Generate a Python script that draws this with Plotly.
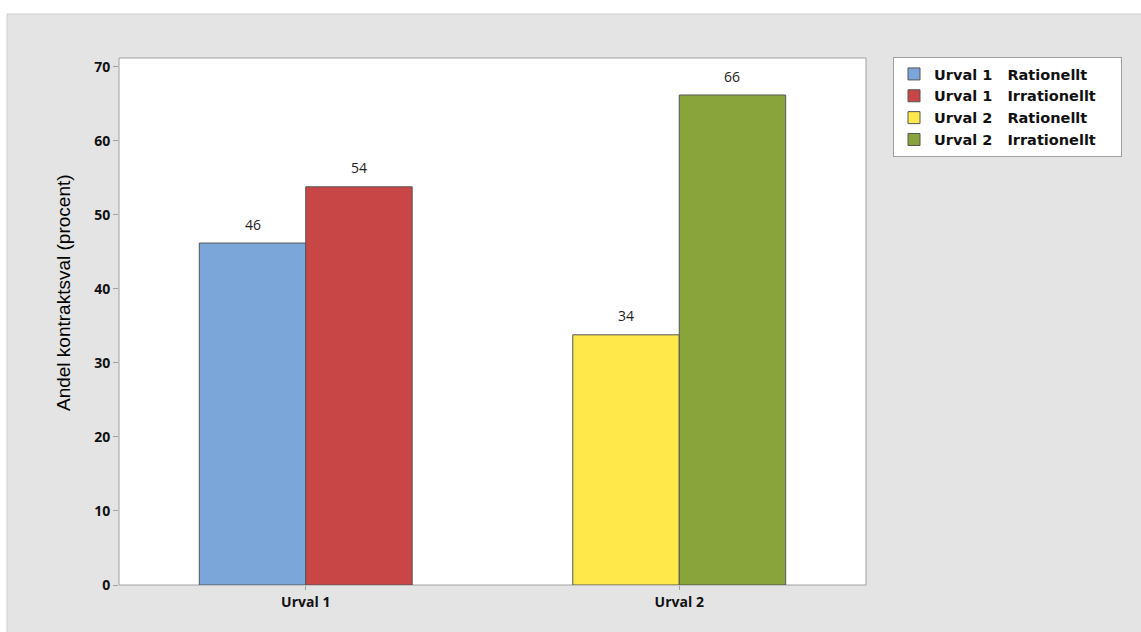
import plotly.graph_objects as go

categories = ["Urval 1", "Urval 2"]
series_names = ["Urval 1\u00a0\u00a0\u00a0Rationellt", "Urval 1\u00a0\u00a0\u00a0Irrationellt",
                "Urval 2\u00a0\u00a0\u00a0Rationellt", "Urval 2\u00a0\u00a0\u00a0Irrationellt"]
series_cat = ["Urval 1", "Urval 1", "Urval 2", "Urval 2"]
series_vals = [46.2, 53.8, 33.8, 66.2]
series_labels = ["46", "54", "34", "66"]
colors = ["#7BA6D9", "#C84646", "#FFE84A", "#88A43A"]
offsets = ["a", "b", "a", "b"]
y_ticks = [0, 10, 20, 30, 40, 50, 60, 70]

L, R, T, B = 119, 275, 58, 47
W, H = 1141, 632
pw, ph = W - L - R, H - T - B
bargap = 0.43
x_range = [-0.5, 1.5]
bar_px = (1 - bargap) / 2 * pw / (x_range[1] - x_range[0])
legend_pad = "\u00a0" * 4

fig = go.Figure()
annotations = []
for name, cat, v, lab, c, og in zip(series_names, series_cat, series_vals, series_labels, colors, offsets):
    fig.add_trace(go.Bar(
        x=[cat], y=[v], name=name + legend_pad, offsetgroup=og,
        marker=dict(color=c, line=dict(color="#555555", width=1)),
    ))
    k = 0 if og == "a" else 1
    annotations.append(dict(
        x=cat, y=v, xref="x", yref="y", text=lab, showarrow=False,
        xshift=(k - 0.5) * bar_px, yshift=19, yanchor="middle",
        font=dict(family="Open Sans, sans-serif", size=14, color="#222222"),
    ))

annotations.append(dict(
    x=(63 - L) / pw, y=(H - B - 293) / ph, xref="paper", yref="paper",
    text="Andel kontraktsval (procent)", textangle=-90, showarrow=False,
    xanchor="center", yanchor="middle",
    font=dict(family="Liberation Sans Narrow, Liberation Sans, sans-serif", size=19, color="#000000"),
))

shapes = [
    dict(type="rect", xref="paper", yref="paper", layer="below",
         x0=(7 - L) / pw, x1=(W + 5 - L) / pw, y0=-(B + 5) / ph, y1=(H - B - 14) / ph,
         fillcolor="#E4E4E4", line=dict(color="#CFCFCF", width=1)),
    dict(type="rect", xref="paper", yref="paper", layer="below",
         x0=0, x1=1, y0=0, y1=1, fillcolor="white", line=dict(color="#A0A0A0", width=1)),
]

fig.update_layout(
    width=W, height=H,
    margin=dict(l=L, r=R, t=T, b=B, pad=0),
    paper_bgcolor="white", plot_bgcolor="rgba(0,0,0,0)",
    barmode="group", bargap=bargap, bargroupgap=0,
    shapes=shapes, annotations=annotations,
    showlegend=True,
    legend=dict(x=(893 - L) / pw, y=(H - B - 57) / ph, xanchor="left", yanchor="top",
                bgcolor="white", bordercolor="#A0A0A0", borderwidth=1,
                font=dict(family="DejaVu Sans, sans-serif", size=14.5, color="#111111", weight="bold"),
                tracegroupgap=0, traceorder="normal"),
    xaxis=dict(range=x_range, showline=False, showgrid=False, ticks="outside", ticklen=4,
               tickcolor="#A0A0A0", zeroline=False,
               tickfont=dict(family="Open Sans, sans-serif", size=14, color="#111111", weight="bold")),
    yaxis=dict(range=[0, 71.2], tickvals=y_ticks, showline=False, showgrid=False,
               ticks="outside", ticklen=5, tickcolor="#A0A0A0", zeroline=False,
               tickfont=dict(family="Open Sans, sans-serif", size=14, color="#111111", weight="bold")),
)

fig.write_html("out.html")
